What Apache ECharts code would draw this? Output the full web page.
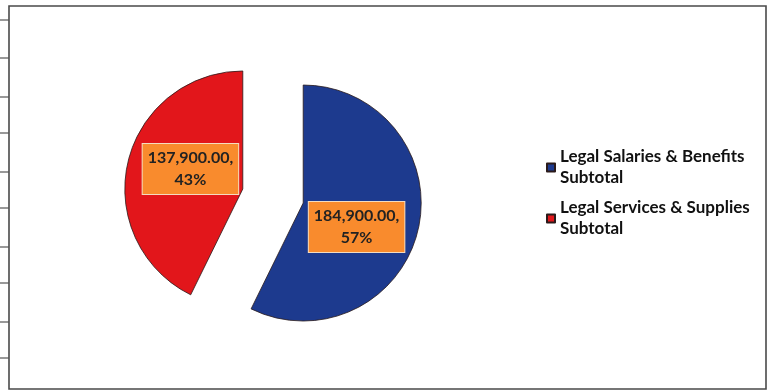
<!DOCTYPE html>
<html>
<head>
<meta charset="utf-8">
<style>
  html, body { margin: 0; padding: 0; background: #fff; }
  #chart { width: 769px; height: 392px; }
</style>
<script src="https://cdn.jsdelivr.net/npm/echarts@6/dist/echarts.min.js"></script>
</head>
<body>
<div id="chart"></div>
<script>
// Budget subtotals
const categories = ['Legal Salaries & Benefits Subtotal', 'Legal Services & Supplies Subtotal'];
const amounts = [184900, 137900];
const sliceColors = ['#1d3a8e', '#e2161b'];

// small nudges for the in-slice value boxes
const labelNudge = [{ dx: -7, dy: 10 }, { dx: 8, dy: -6 }];

const fontFamily = 'Lato, "Open Sans", sans-serif';

const chart = echarts.init(document.getElementById('chart'), null, { renderer: 'canvas' });

// frame of the chart area plus the sheet's row lines on the far left
const rowLines = [20, 58, 97, 133, 172, 208, 247, 283, 322, 358];
const graphics = [
  {
    type: 'rect',
    shape: { x: 9, y: 6, width: 757, height: 383 },
    style: { fill: 'none', stroke: '#4a4a4a', lineWidth: 1.6 },
    silent: true, z: -1
  }
].concat(rowLines.map(y => ({
  type: 'line',
  shape: { x1: 0, y1: y, x2: 9, y2: y },
  style: { stroke: '#555', lineWidth: 1.2 },
  silent: true
})));

const fmtAmount = v => v.toLocaleString('en-US', { minimumFractionDigits: 2, maximumFractionDigits: 2 });

chart.setOption({
  animation: false,
  backgroundColor: '#ffffff',
  graphic: graphics,
  legend: {
    orient: 'vertical',
    left: 541,
    top: 131,
    itemWidth: 8,
    itemHeight: 8,
    itemGap: -12,
    icon: 'rect',
    selectedMode: false,
    formatter: name => name.replace(' Subtotal', '\nSubtotal'),
    textStyle: {
      fontFamily: fontFamily,
      fontSize: 17,
      fontWeight: 'bold',
      color: '#111',
      lineHeight: 21,
      padding: [21, 0, 0, 0]
    },
    data: categories
  },
  series: [{
    type: 'pie',
    center: [273, 196],
    radius: 118,
    startAngle: 90,
    clockwise: true,
    selectedMode: 'multiple',
    selectedOffset: 31,
    emphasis: { disabled: true },
    itemStyle: { borderColor: '#2a1a1a', borderWidth: 0.8 },
    labelLine: { show: false },
    label: {
      show: true,
      position: 'inside',
      formatter: p => fmtAmount(p.value) + ',\n' + Math.round(p.percent) + '%',
      backgroundColor: '#f98b2d',
      borderColor: '#f4dcc0',
      borderWidth: 1,
      padding: [3, 5, 3, 5],
      fontFamily: fontFamily,
      fontSize: 16,
      fontWeight: 'bold',
      lineHeight: 22,
      color: '#222'
    },
    labelLayout: p => labelNudge[p.dataIndex],
    data: categories.map((name, i) => ({
      name: name,
      value: amounts[i],
      selected: true,
      itemStyle: { color: sliceColors[i] }
    }))
  }]
});
</script>
</body>
</html>
